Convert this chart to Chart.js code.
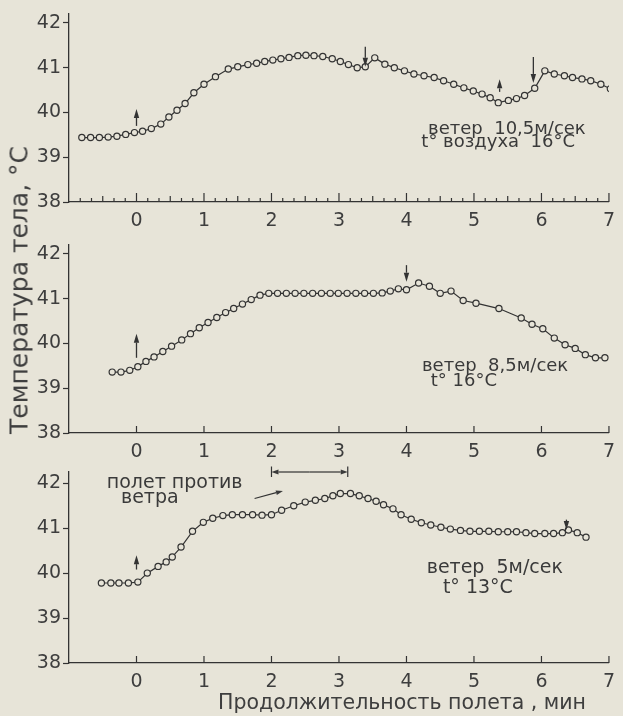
<!DOCTYPE html>
<html><head><meta charset="utf-8">
<script src="https://cdn.jsdelivr.net/npm/chart.js@4.4.1/dist/chart.umd.min.js"></script>
<style>
html,body{margin:0;padding:0;background:#e7e4d8;}
#wrap{position:relative;width:623px;height:716px;overflow:hidden;background:#e7e4d8;}
#wrap canvas{position:absolute;left:0;top:0;}
.lbl{position:absolute;white-space:nowrap;color:#3e3e3e;font-family:"DejaVu Sans",sans-serif;}
#ytitle{left:19px;top:290px;font-size:25px;transform:translate(-50%,-50%) rotate(-90deg);}
#xtitle{left:402px;top:702px;font-size:20.5px;transform:translate(-50%,-50%);}
</style></head><body>
<div id="wrap">
<canvas id="c1" width="623" height="716"></canvas>
<canvas id="c2" width="623" height="716"></canvas>
<canvas id="c3" width="623" height="716"></canvas>
<div class="lbl" id="ytitle">Температура тела, °C</div>
<div class="lbl" id="xtitle">Продолжительность полета , мин</div>
</div>
<script>
// ---- data (minutes of flight, body temperature °C) ----
const xTicks = [0,1,2,3,4,5,6,7];
const yTicks = [38,39,40,41,42];

const p1Minutes = [-0.81,-0.68,-0.55,-0.42,-0.29,-0.16,-0.03,0.09,0.22,0.36,0.48,0.60,0.72,0.85,1.00,1.17,1.36,1.50,1.65,1.78,1.90,2.02,2.14,2.26,2.39,2.51,2.63,2.76,2.90,3.02,3.14,3.27,3.39,3.53,3.68,3.82,3.97,4.11,4.26,4.41,4.55,4.70,4.85,4.99,5.12,5.24,5.36,5.51,5.63,5.75,5.90,6.05,6.19,6.34,6.46,6.60,6.73,6.88,7.02];
const p1Temp    = [39.44,39.44,39.44,39.45,39.47,39.51,39.55,39.58,39.64,39.74,39.90,40.05,40.20,40.44,40.63,40.80,40.97,41.02,41.07,41.10,41.14,41.17,41.20,41.23,41.27,41.28,41.27,41.25,41.20,41.14,41.07,41.00,41.02,41.22,41.08,41.00,40.93,40.86,40.82,40.78,40.71,40.63,40.55,40.48,40.41,40.33,40.22,40.27,40.31,40.38,40.54,40.93,40.86,40.82,40.78,40.75,40.71,40.63,40.53];

const p2Minutes = [-0.36,-0.23,-0.10,0.02,0.14,0.26,0.39,0.52,0.67,0.80,0.93,1.06,1.19,1.32,1.44,1.57,1.70,1.83,1.96,2.09,2.22,2.35,2.48,2.61,2.74,2.87,2.99,3.12,3.25,3.38,3.51,3.64,3.76,3.88,4.00,4.18,4.34,4.50,4.66,4.84,5.03,5.37,5.70,5.86,6.02,6.19,6.35,6.50,6.65,6.80,6.94];
const p2Temp    = [39.36,39.36,39.40,39.48,39.60,39.70,39.82,39.94,40.08,40.22,40.35,40.47,40.58,40.69,40.78,40.88,40.98,41.08,41.12,41.12,41.12,41.12,41.12,41.12,41.12,41.12,41.12,41.12,41.12,41.12,41.12,41.13,41.17,41.22,41.20,41.35,41.28,41.12,41.17,40.96,40.90,40.78,40.57,40.43,40.33,40.12,39.97,39.89,39.75,39.68,39.68];

const p3Minutes = [-0.52,-0.38,-0.26,-0.12,0.02,0.16,0.32,0.44,0.53,0.66,0.83,0.99,1.13,1.28,1.42,1.57,1.72,1.86,2.00,2.15,2.33,2.50,2.65,2.79,2.91,3.02,3.17,3.30,3.43,3.55,3.66,3.80,3.92,4.07,4.22,4.36,4.51,4.65,4.80,4.94,5.08,5.22,5.36,5.50,5.63,5.77,5.90,6.05,6.18,6.31,6.40,6.53,6.66];
const p3Temp    = [39.78,39.78,39.78,39.78,39.80,40.00,40.15,40.25,40.36,40.58,40.93,41.13,41.22,41.28,41.30,41.30,41.30,41.29,41.30,41.40,41.50,41.58,41.62,41.66,41.72,41.77,41.77,41.72,41.66,41.60,41.52,41.43,41.30,41.20,41.12,41.07,41.02,40.98,40.95,40.93,40.93,40.93,40.92,40.92,40.92,40.90,40.88,40.88,40.88,40.90,40.96,40.90,40.80];

// event arrows: [minute, tail temp, head temp]
const p1Arrows = [[0,39.70,40.08],[3.39,41.47,41.02],[5.38,40.46,40.74],[5.88,41.24,40.66]];
const p2Arrows = [[0,39.68,40.22],[4.0,41.75,41.38]];
const p3Arrows = [[0,40.08,40.40],[6.37,41.19,40.96]];

const p1Notes = ['ветер  10,5м/сек','t° воздуха  16°C'];
const p2Notes = ['ветер  8,5м/сек','t° 16°C'];
const p3Notes = ['ветер  5м/сек','t° 13°C','полет против','ветра'];

// ---- drawing ----
const INK = '#333333';
const BG = '#e7e4d8';
const FONT = '"DejaVu Sans", sans-serif';

function arrow(ctx, x1, y1, x2, y2, hl, hw){
  const a = Math.atan2(y2-y1, x2-x1);
  const bx = x2 - hl*Math.cos(a), by = y2 - hl*Math.sin(a);
  ctx.beginPath(); ctx.moveTo(x1,y1); ctx.lineTo(bx,by); ctx.stroke();
  ctx.beginPath();
  ctx.moveTo(x2,y2);
  ctx.lineTo(bx + hw*Math.sin(a), by - hw*Math.cos(a));
  ctx.lineTo(bx - hw*Math.sin(a), by + hw*Math.cos(a));
  ctx.closePath(); ctx.fill();
}

function makePanel(id, minutes, temps, cfg){
  const decor = {
    id: 'decor_'+id,
    afterDraw(chart){
      const ctx = chart.ctx, xs = chart.scales.x, ys = chart.scales.y;
      const base = chart.chartArea.bottom;
      ctx.save();
      ctx.strokeStyle = INK; ctx.fillStyle = INK; ctx.lineWidth = 1.2;
      // inward ticks on time axis
      if (cfg.minor){
        for (let k = -6; k <= 42; k++){
          const v = k/6; if (v <= -1) continue;
          const px = xs.getPixelForValue(v);
          const len = (k % 6 === 0) ? 9 : (k % 3 === 0 ? 6 : 4);
          ctx.beginPath(); ctx.moveTo(px, base); ctx.lineTo(px, base-len); ctx.stroke();
        }
      } else {
        xTicks.forEach(v => {
          const px = xs.getPixelForValue(v);
          ctx.beginPath(); ctx.moveTo(px, base); ctx.lineTo(px, base-7); ctx.stroke();
        });
      }
      // event arrows
      ctx.lineWidth = 1.3;
      cfg.arrows.forEach(a => {
        const px = xs.getPixelForValue(a[0]);
        arrow(ctx, px, ys.getPixelForValue(a[1]), px, ys.getPixelForValue(a[2]), 9, 2.7);
      });
      // notes
      ctx.font = cfg.noteFont || ('18px ' + FONT);
      ctx.fillStyle = '#3a3a3a';
      ctx.textBaseline = 'middle'; ctx.textAlign = 'left';
      cfg.notes.forEach(n => {
        ctx.fillText(n.t, xs.getPixelForValue(n.x), ys.getPixelForValue(n.y));
      });
      if (cfg.extra) cfg.extra(ctx, xs, ys);
      ctx.restore();
    }
  };
  return new Chart(document.getElementById(id), {
    type: 'line',
    data: { datasets: [{
      data: minutes.map((m,i) => ({x: m, y: temps[i]})),
      borderColor: INK, borderWidth: 1.2,
      pointRadius: 3.1, pointBorderWidth: 1.2,
      pointBackgroundColor: BG, pointBorderColor: INK,
      tension: 0, fill: false
    }]},
    options: {
      responsive: false, animation: false, devicePixelRatio: 1,
      layout: { padding: { top: cfg.top, bottom: cfg.bottom, left: 0, right: 8 } },
      plugins: { legend: {display:false}, tooltip: {enabled:false}, title: {display:false} },
      scales: {
        x: {
          type: 'linear', min: -1, max: 7,
          afterBuildTicks: s => { s.ticks = xTicks.map(v => ({value: v})); },
          afterFit: s => { s.height = 30; },
          grid: { drawOnChartArea: false, drawTicks: false },
          border: { display: true, color: INK, width: 1.3 },
          ticks: { color: '#3e3e3e', font: { family: FONT, size: 19 }, padding: 8, maxRotation: 0, autoSkip: false }
        },
        y: {
          type: 'linear', min: 38, max: cfg.yMax,
          afterBuildTicks: s => { s.ticks = yTicks.map(v => ({value: v})); },
          afterFit: s => { s.width = 69; },
          grid: { drawOnChartArea: false, drawTicks: true, tickLength: 6, color: INK, tickWidth: 1.2 },
          border: { display: true, color: INK, width: 1.3 },
          ticks: { color: '#3e3e3e', font: { family: FONT, size: 19 }, padding: 2 }
        }
      }
    },
    plugins: [decor]
  });
}

makePanel('c1', p1Minutes, p1Temp, {
  top: 14, bottom: 484, yMax: 42.2, minor: true, arrows: p1Arrows,
  notes: [{t:p1Notes[0], x:4.32, y:39.62},{t:p1Notes[1], x:4.22, y:39.33}]
});
makePanel('c2', p2Minutes, p2Temp, {
  top: 245, bottom: 253, yMax: 42.2, minor: false, arrows: p2Arrows,
  notes: [{t:p2Notes[0], x:4.23, y:39.5},{t:p2Notes[1], x:4.36, y:39.15}]
});
makePanel('c3', p3Minutes, p3Temp, {
  top: 472, bottom: 23, yMax: 42.25, minor: false, arrows: p3Arrows,
  notes: [{t:p3Notes[0], x:4.3, y:40.11},{t:p3Notes[1], x:4.54, y:39.67},
          {t:p3Notes[2], x:-0.44, y:42.0},{t:p3Notes[3], x:-0.23, y:41.66}],
  noteFont: '19px ' + FONT,
  extra: (ctx, xs, ys) => {
    // bracket marking "flight against the wind" interval
    const xa = xs.getPixelForValue(2.0), xb = xs.getPixelForValue(3.13);
    const yc = ys.getPixelForValue(42.25), yt = ys.getPixelForValue(42.37), yb = ys.getPixelForValue(42.14);
    ctx.lineWidth = 1.2;
    ctx.beginPath(); ctx.moveTo(xa, yt); ctx.lineTo(xa, yb); ctx.moveTo(xb, yt); ctx.lineTo(xb, yb); ctx.stroke();
    const mid = (xa+xb)/2;
    arrow(ctx, mid, yc, xa, yc, 7, 2.4);
    arrow(ctx, mid, yc, xb, yc, 7, 2.4);
    // pointer from the note to the bracket
    arrow(ctx, xs.getPixelForValue(1.75), ys.getPixelForValue(41.66), xs.getPixelForValue(2.17), ys.getPixelForValue(41.83), 7, 2.4);
  }
});
</script>
</body></html>
